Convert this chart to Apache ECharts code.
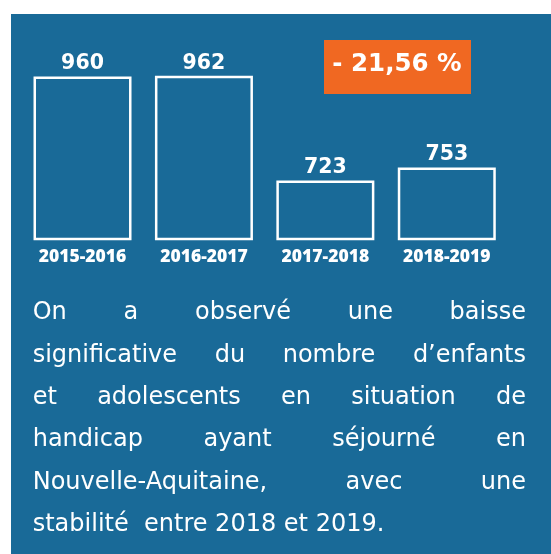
<!DOCTYPE html>
<html>
<head>
<meta charset="utf-8">
<script src="https://cdn.jsdelivr.net/npm/echarts@6/dist/echarts.min.js"></script>
<style>
	html, body { margin: 0; padding: 0; background: #fff; }
	#panel { position: absolute; left: 11px; top: 14px; width: 540px; height: 540px; background: #196a98; }
	#chart { position: absolute; left: 0; top: 0; width: 551px; height: 554px; }
</style>
</head>
<body>
<div id="panel"></div>
<div id="chart"></div>
<script>
// données
let categories = ['2015-2016', '2016-2017', '2017-2018', '2018-2019']
let values = [960, 962, 723, 753]
let variation = '- 21,56 %'
let lines = [
	'On a observé une baisse',
	'significative du nombre d’enfants',
	'et adolescents en situation de',
	'handicap ayant séjourné en',
	'Nouvelle-Aquitaine, avec une',
	'stabilité  entre 2018 et 2019.'
]

let orange = '#f06822'
let textFont = '"DejaVu Sans"'
let textSize = 24

// mesure des mots pour justifier le paragraphe
let ctx = document.createElement('canvas').getContext('2d')
ctx.font = `${textSize}px ${textFont}`

let paragraph = (left, right, firstBaseline, lineGap) => {
	let items = []
	lines.forEach((line, i) => {
		let y = firstBaseline + i * lineGap - 8.5
		// dernière ligne non justifiée
		if (i === lines.length - 1) {
			items.push({ type: 'text', x: left, y: y, style: { text: line, fill: '#fff', font: ctx.font, verticalAlign: 'middle' } })
			return
		}
		let words = line.split(' ')
		let widths = words.map(w => ctx.measureText(w).width)
		let total = widths.reduce((a, b) => a + b, 0)
		let gap = (right - left - total) / (words.length - 1)
		let x = left
		words.forEach((w, j) => {
			items.push({ type: 'text', x: x, y: y, style: { text: w, fill: '#fff', font: ctx.font, verticalAlign: 'middle' } })
			x += widths[j] + gap
		})
	})
	return items
}

let chart = echarts.init(document.querySelector('#chart'))

let opt = {
	backgroundColor: 'transparent',
	animation: false,
	grid: {
		left: 21.8,
		right: 43.5,
		top: 59,
		bottom: 315
	},
	xAxis: {
		type: 'category',
		data: categories,
		axisLine: { show: false },
		axisTick: { show: false },
		axisLabel: {
			color: '#fff',
			fontFamily: '"Open Sans"',
			fontWeight: 800,
			fontSize: 17.5,
			margin: 9
		}
	},
	yAxis: {
		type: 'value',
		min: 590,
		max: 1000,
		show: false
	},
	series: [
		{
			type: 'bar',
			data: values,
			barWidth: 98,
			itemStyle: {
				color: 'rgba(0,0,0,0)',
				borderColor: '#fff',
				borderWidth: 2.5
			},
			label: {
				show: true,
				position: 'top',
				distance: 2,
				color: '#fff',
				fontFamily: textFont,
				fontWeight: 'bold',
				fontSize: 20.5
			}
		}
	],
	graphic: [
		{
			type: 'rect',
			shape: { x: 324, y: 40, width: 147, height: 54 },
			style: { fill: orange }
		},
		{
			type: 'text',
			x: 397,
			y: 65,
			style: {
				text: variation,
				fill: '#fff',
				font: `bold 24.5px ${textFont}`,
				align: 'center',
				verticalAlign: 'middle'
			}
		},
		...paragraph(32.7, 526, 321.5, 42.35)
	]
}

chart.setOption(opt, true)
</script>
</body>
</html>
